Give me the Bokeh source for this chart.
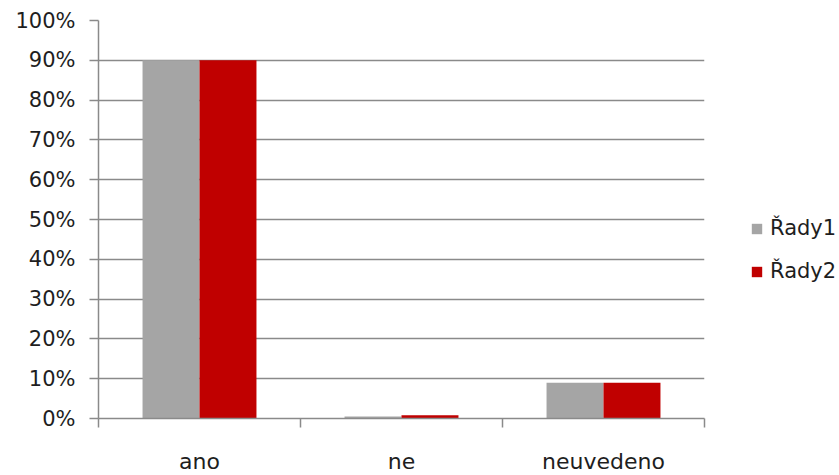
from bokeh.plotting import figure
from bokeh.models import (ColumnDataSource, Range1d, FixedTicker, Legend, LegendItem)
from bokeh.transform import dodge
from bokeh.embed import file_html
from bokeh.resources import INLINE

categories = ["ano", "ne", "neuvedeno"]
series_names = ["Řady1", "Řady2"]
rady1 = [90, 0.5, 9]
rady2 = [90, 0.8, 9]
y_ticks = [0, 10, 20, 30, 40, 50, 60, 70, 80, 90, 100]
y_tick_labels = ["0%", "10%", "20%", "30%", "40%", "50%", "60%", "70%", "80%", "90%", "100%"]

colors = ["#A5A5A5", "#C00000"]
grid_col = "#8A8A8A"
font = "DejaVu Sans"
text_col = "#1E1E1E"

# category slots: centre of slot i is i + 0.5 on a 0..n linear range
centres = [i + 0.5 for i in range(len(categories))]
bounds = [i for i in range(len(categories) + 1)]

src = ColumnDataSource(dict(x=centres, cat=categories, s1=rady1, s2=rady2))

p = figure(x_range=Range1d(0, len(categories)), y_range=Range1d(0, 100),
           frame_width=606, frame_height=398,
           output_backend="svg", toolbar_location=None,
           min_border_left=98, min_border_top=20,
           min_border_bottom=57, min_border_right=135)
p.outline_line_color = None
p.background_fill_color = "white"
p.border_fill_color = "white"

r1 = p.vbar(x=dodge("x", -0.141), top="s1", width=0.282,
            bottom=0, source=src, fill_color=colors[0], line_color=None)
r2 = p.vbar(x=dodge("x", 0.141), top="s2", width=0.282,
            bottom=0, source=src, fill_color=colors[1], line_color=None)

# y axis
ya = p.yaxis[0]
ya.ticker = FixedTicker(ticks=y_ticks)
ya.major_label_overrides = {t: l for t, l in zip(y_ticks, y_tick_labels)}
ya.axis_line_color = grid_col
ya.axis_line_width = 1.5
ya.major_tick_line_color = grid_col
ya.major_tick_line_width = 1.5
ya.major_tick_in = 0
ya.major_tick_out = 9
ya.minor_tick_line_color = None
ya.major_label_standoff = 14
ya.major_label_text_font = font
ya.major_label_text_font_size = "21px"
ya.major_label_text_color = text_col

p.ygrid.ticker = FixedTicker(ticks=y_ticks)
p.ygrid.grid_line_color = grid_col
p.ygrid.grid_line_width = 1.3
p.xgrid.grid_line_color = None

# x axis: labels at category centres, ticks at category boundaries
xa = p.xaxis[0]
xa.ticker = FixedTicker(ticks=centres, minor_ticks=bounds)
xa.major_label_overrides = {c: n for c, n in zip(centres, categories)}
xa.axis_line_color = grid_col
xa.axis_line_width = 1.5
xa.major_tick_line_color = None
xa.minor_tick_line_color = grid_col
xa.minor_tick_line_width = 1.5
xa.minor_tick_in = 0
xa.minor_tick_out = 9
xa.major_tick_out = 9
xa.major_tick_in = 0
xa.major_label_standoff = 21
xa.major_label_text_font = font
xa.major_label_text_font_size = "22px"
xa.major_label_text_color = text_col

legend = Legend(items=[LegendItem(label=series_names[0], renderers=[r1]),
                       LegendItem(label=series_names[1], renderers=[r2])],
                location=(46, 135), orientation="vertical",
                border_line_color=None, background_fill_alpha=0,
                padding=0, margin=0, spacing=19,
                glyph_width=13, glyph_height=13, label_height=21,
                label_standoff=7, label_text_font=font,
                label_text_font_size="21px", label_text_color=text_col)
p.add_layout(legend, "right")

open("out.html", "w").write(file_html(p, INLINE))
